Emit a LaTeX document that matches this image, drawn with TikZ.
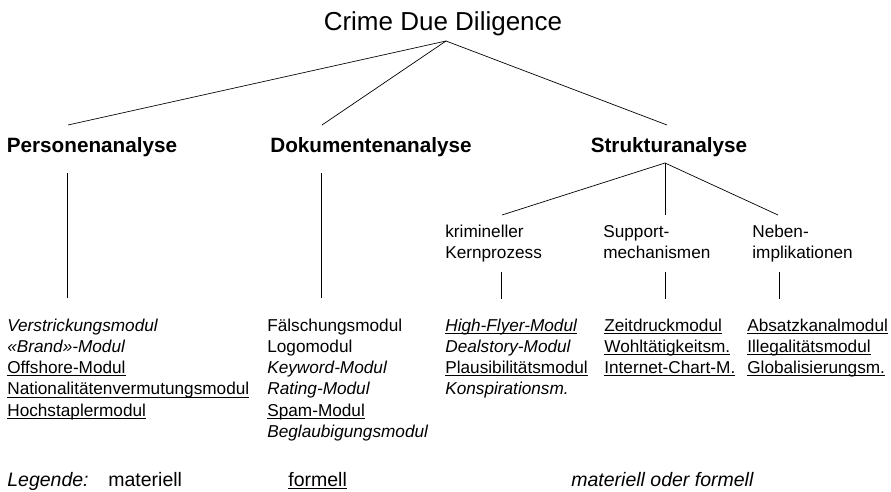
\documentclass[tikz,border=0pt]{standalone}
\usepackage{fontspec}
\setmainfont{Liberation Sans}
\newcommand{\ulin}[1]{\setbox0\hbox{#1}\rlap{\rule[-2.6pt]{\wd0}{0.75pt}}\box0}
\tikzset{
  title/.style={anchor=base,inner sep=0pt,font=\fontsize{26}{30}\selectfont},
  head/.style={anchor=base,inner sep=0pt,font=\fontsize{20.7}{24}\selectfont\bfseries},
  sub/.style={anchor=base west,inner sep=0pt,align=left,font=\fontsize{17.2}{21}\selectfont},
  mods/.style={anchor=base west,inner sep=0pt,align=left,font=\fontsize{17.2}{21.3}\selectfont},
  leg/.style={anchor=base west,inner sep=0pt,font=\fontsize{19.5}{22}\selectfont}
}
\begin{document}
\begin{tikzpicture}[x=1pt,y=-1pt,line width=.7pt]
        \useasboundingbox(0,0)rectangle(891,492);
        % Ebene 0 und 1
        \coordinate(top)at(446,41);
        \coordinate(P)at(68,125);
        \coordinate(D)at(322,125);
        \coordinate(S)at(667,125);
        \node[title](cdd)at(443,31){Crime Due Diligence};
        \node[head](pers)at(92,153){Personenanalyse};
        \node[head](doku)at(371,153){Dokumentenanalyse};
        \node[head](struk)at(669,153){Strukturanalyse};
        \draw(top)--(P);
        \draw(top)--(D);
        \draw(top)--(S);
        % Strukturanalyse
        \coordinate(S0)at(665,163);
        \coordinate(K)at(502,215);
        \coordinate(U)at(665,215);
        \coordinate(N)at(778,215);
        \draw(S0)--(K);
        \draw(S0)--(U);
        \draw(S0)--(N);
        \node[sub](kern)at(445,258){krimineller\\Kernprozess};
        \node[sub](supp)at(603,258){Support-\\mechanismen};
        \node[sub](neben)at(752,258){Neben-\\implikationen};
        % senkrechte Linien
        \coordinate(P1)at(67,173);
        \coordinate(P2)at(67,298);
        \coordinate(D1)at(321,173);
        \coordinate(D2)at(321,298);
        \coordinate(K1)at(501,272);
        \coordinate(K2)at(501,299);
        \coordinate(U1)at(665,272);
        \coordinate(U2)at(665,299);
        \coordinate(N1)at(779,272);
        \coordinate(N2)at(779,299);
        \draw(P1)--(P2);
        \draw(D1)--(D2);
        \draw(K1)--(K2);
        \draw(U1)--(U2);
        \draw(N1)--(N2);
        % Module (Knoten an der letzten Grundlinie)
        \node[mods](persmod)at(7,416.2){\textit{Verstrickungsmodul}\\\textit{«Brand»-Modul}\\\ulin{Offshore-Modul}\\\ulin{Nationalitätenvermutungsmodul}\\\ulin{Hochstaplermodul}};
        \node[mods](dokumod)at(267,437.5){Fälschungsmodul\\Logomodul\\\textit{Keyword-Modul}\\\textit{Rating-Modul}\\\ulin{Spam-Modul}\\\textit{Beglaubigungsmodul}};
        \node[mods](kernmod)at(445,394.9){\ulin{\itshape High-Flyer-Modul}\\\textit{Dealstory-Modul}\\\ulin{Plausibilitätsmodul}\\\textit{Konspirationsm.}};
        \node[mods](suppmod)at(604,373.6){\ulin{Zeitdruckmodul}\\\ulin{Wohltätigkeitsm.}\\\ulin{Internet-Chart-M.}};
        \node[mods](nebenmod)at(747,373.6){\ulin{Absatzkanalmodul}\\\ulin{Illegalitätsmodul}\\\ulin{Globalisierungsm.}};
        % Legende
        \node[leg](leg)at(7,486){\textit{Legende:}};
        \node[leg](mat)at(108,486){materiell};
        \node[leg](form)at(288,486){\ulin{formell}};
        \node[leg](matform)at(571,486){\textit{materiell oder formell}};
    \end{tikzpicture}
\end{document}
